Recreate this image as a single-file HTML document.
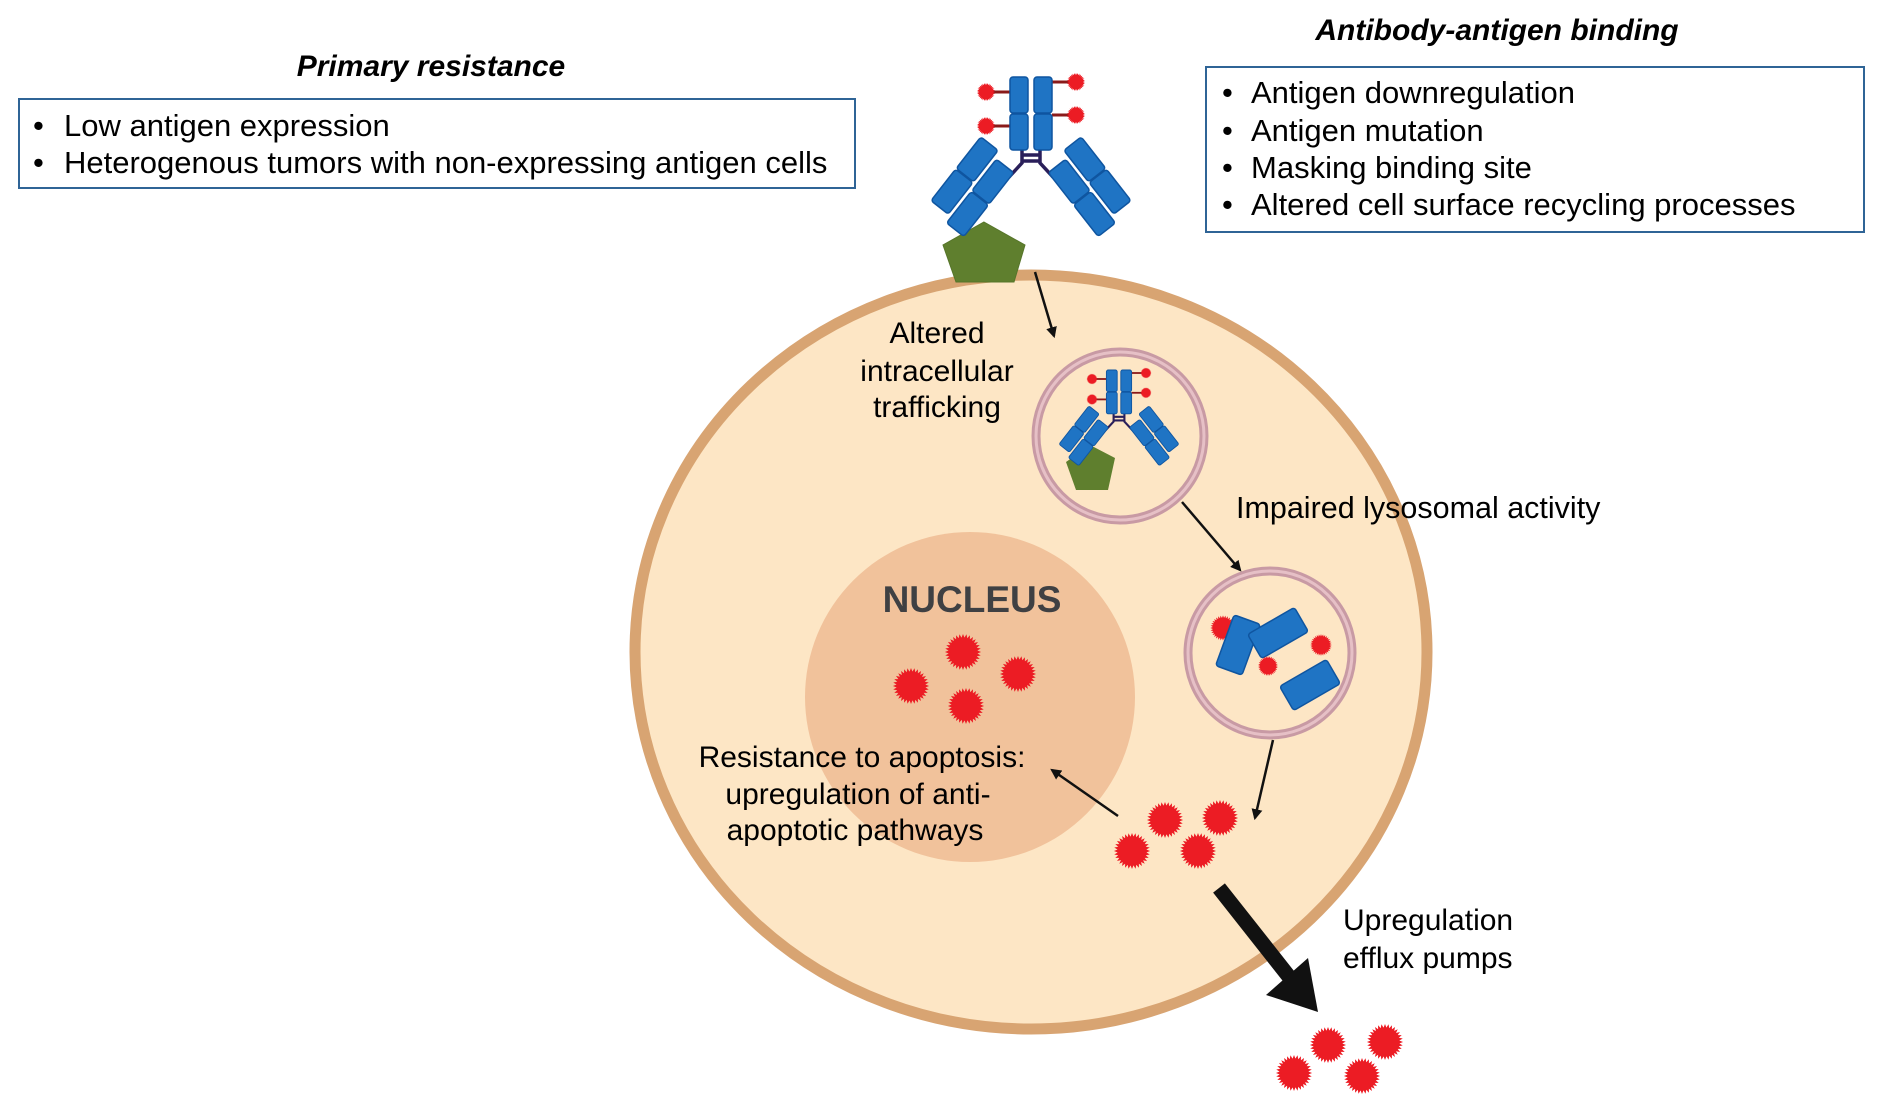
<!DOCTYPE html>
<html><head><meta charset="utf-8"><style>
html,body{margin:0;padding:0;background:#fff}
svg{display:block}
text{font-family:"Liberation Sans",Arial,sans-serif;fill:#000}
</style></head><body>
<svg width="1879" height="1111" viewBox="0 0 1879 1111" xmlns="http://www.w3.org/2000/svg">
<defs>
<polygon id="st0" points="0,-19 2.6,-12.4 7.3,-17.6 7.2,-10.5 13.4,-13.4 10.5,-7.2 17.6,-7.3 12.4,-2.6 19,0 12.4,2.6 17.6,7.3 10.5,7.2 13.4,13.4 7.2,10.5 7.3,17.6 2.6,12.4 0,19 -2.6,12.4 -7.3,17.6 -7.2,10.5 -13.4,13.4 -10.5,7.2 -17.6,7.3 -12.4,2.6 -19,0 -12.4,-2.6 -17.6,-7.3 -10.5,-7.2 -13.4,-13.4 -7.2,-10.5 -7.3,-17.6 -2.6,-12.4"/>
<g id="star" fill="#ec1c24">
  <circle r="14.5"/>
  <use href="#st0" transform="scale(0.95)"/>
  <use href="#st0" transform="rotate(11.25) scale(0.95)"/>
</g>
<marker id="ah" markerWidth="11" markerHeight="11" refX="8" refY="5" orient="auto" markerUnits="userSpaceOnUse" viewBox="0 0 10 10"><path d="M0,0 L10,5 L0,10 z" fill="#111"/></marker>
<g id="ab">
  <line x1="-21" y1="15" x2="-40" y2="15" stroke="#8a1a1a" stroke-width="3"/>
  <line x1="-21" y1="49" x2="-40" y2="49" stroke="#8a1a1a" stroke-width="3"/>
  <line x1="21" y1="5" x2="40" y2="5" stroke="#8a1a1a" stroke-width="3"/>
  <line x1="21" y1="38" x2="40" y2="38" stroke="#8a1a1a" stroke-width="3"/>
  <use href="#star" transform="translate(-45,15) scale(0.5)"/>
  <use href="#star" transform="translate(-45,49) scale(0.5)"/>
  <use href="#star" transform="translate(45,5) scale(0.5)"/>
  <use href="#star" transform="translate(45,38) scale(0.5)"/>
  <path d="M-9,72 L-9,86 L-22,100 M9,72 L9,86 L22,100 M-9,78 L9,78 M-9,84 L9,84" stroke="#2a1f5a" stroke-width="3.5" fill="none"/>
  <rect x="-21" y="0" width="18" height="36" rx="3" fill="#1f74c4" stroke="#0f55a0" stroke-width="1.5"/>
  <rect x="-21" y="37" width="18" height="36" rx="3" fill="#1f74c4" stroke="#0f55a0" stroke-width="1.5"/>
  <rect x="3" y="0" width="18" height="36" rx="3" fill="#1f74c4" stroke="#0f55a0" stroke-width="1.5"/>
  <rect x="3" y="37" width="18" height="36" rx="3" fill="#1f74c4" stroke="#0f55a0" stroke-width="1.5"/>
  <g transform="translate(-22,92) rotate(38)">
    <rect x="-42" y="-8" width="22" height="40" rx="3" fill="#1f74c4" stroke="#0f55a0" stroke-width="1.5"/>
    <rect x="-42" y="33" width="22" height="40" rx="3" fill="#1f74c4" stroke="#0f55a0" stroke-width="1.5"/>
    <rect x="-16" y="0" width="22" height="40" rx="3" fill="#1f74c4" stroke="#0f55a0" stroke-width="1.5"/>
    <rect x="-16" y="41" width="22" height="40" rx="3" fill="#1f74c4" stroke="#0f55a0" stroke-width="1.5"/>
  </g>
  <g transform="translate(22,92) rotate(-38)">
    <rect x="20" y="-8" width="22" height="40" rx="3" fill="#1f74c4" stroke="#0f55a0" stroke-width="1.5"/>
    <rect x="20" y="33" width="22" height="40" rx="3" fill="#1f74c4" stroke="#0f55a0" stroke-width="1.5"/>
    <rect x="-6" y="0" width="22" height="40" rx="3" fill="#1f74c4" stroke="#0f55a0" stroke-width="1.5"/>
    <rect x="-6" y="41" width="22" height="40" rx="3" fill="#1f74c4" stroke="#0f55a0" stroke-width="1.5"/>
  </g>
</g>
</defs>

<text x="431" y="76" font-size="30" font-weight="bold" font-style="italic" text-anchor="middle">Primary resistance</text>
<rect x="19" y="99" width="836" height="89" fill="none" stroke="#2f6496" stroke-width="2"/>
<text font-size="31"><tspan x="33" y="136">•</tspan><tspan x="64" y="136">Low antigen expression</tspan><tspan x="33" y="173">•</tspan><tspan x="64" y="173">Heterogenous tumors with non-expressing antigen cells</tspan></text>

<text x="1497" y="40" font-size="30" font-weight="bold" font-style="italic" text-anchor="middle">Antibody-antigen binding</text>
<rect x="1206" y="67" width="658" height="165" fill="none" stroke="#2f6496" stroke-width="2"/>
<text font-size="31"><tspan x="1222" y="103">•</tspan><tspan x="1251" y="103">Antigen downregulation</tspan><tspan x="1222" y="141">•</tspan><tspan x="1251" y="141">Antigen mutation</tspan><tspan x="1222" y="178">•</tspan><tspan x="1251" y="178">Masking binding site</tspan><tspan x="1222" y="215">•</tspan><tspan x="1251" y="215">Altered cell surface recycling processes</tspan></text>

<ellipse cx="1031" cy="652" rx="396" ry="377" fill="#fde6c5" stroke="#d8a472" stroke-width="11"/>
<circle cx="970" cy="697" r="165" fill="#f1c29b"/>
<text x="972" y="612" font-size="37" font-weight="bold" text-anchor="middle" style="fill:#3f4043">NUCLEUS</text>

<polygon points="984,222 1025,245 1014,282 956,282 943,245" fill="#5f7f2e" stroke="#56752a" stroke-width="1"/>
<use href="#ab" transform="translate(1031,77)"/>

<circle cx="1120" cy="436" r="84" fill="none" stroke="#c89aa4" stroke-width="9"/>
<circle cx="1120" cy="436" r="84" fill="none" stroke="#e6c0c6" stroke-width="3"/>
<polygon points="1090,445 1115,458 1108,490 1076,490 1066,462" fill="#5f7f2e"/>
<use href="#ab" transform="translate(1119,370) scale(0.6)"/>

<circle cx="1270" cy="653" r="82" fill="none" stroke="#c89aa4" stroke-width="9"/>
<circle cx="1270" cy="653" r="82" fill="none" stroke="#e6c0c6" stroke-width="3"/>
<use href="#star" transform="translate(1223,628) scale(0.7)"/>
<rect x="-14" y="-27" width="28" height="54" rx="3" fill="#1f74c4" stroke="#0f55a0" stroke-width="1.5" transform="translate(1238,645) rotate(20)"/>
<rect x="-14" y="-27" width="28" height="54" rx="3" fill="#1f74c4" stroke="#0f55a0" stroke-width="1.5" transform="translate(1278,633) rotate(60)"/>
<rect x="-14" y="-27" width="28" height="54" rx="3" fill="#1f74c4" stroke="#0f55a0" stroke-width="1.5" transform="translate(1310,685) rotate(60)"/>
<use href="#star" transform="translate(1321,645) scale(0.6)"/>
<use href="#star" transform="translate(1268,666) scale(0.55)"/>

<use href="#star" transform="translate(963,652)"/>
<use href="#star" transform="translate(911,686)"/>
<use href="#star" transform="translate(1018,674)"/>
<use href="#star" transform="translate(966,706)"/>
<use href="#star" transform="translate(1165,820)"/>
<use href="#star" transform="translate(1220,818)"/>
<use href="#star" transform="translate(1132,851)"/>
<use href="#star" transform="translate(1198,851)"/>
<use href="#star" transform="translate(1328,1045)"/>
<use href="#star" transform="translate(1385,1042)"/>
<use href="#star" transform="translate(1294,1073)"/>
<use href="#star" transform="translate(1362,1076)"/>

<line x1="1035" y1="272" x2="1054" y2="336" stroke="#111" stroke-width="2.5" marker-end="url(#ah)"/>
<line x1="1182" y1="502" x2="1240" y2="570" stroke="#111" stroke-width="2.5" marker-end="url(#ah)"/>
<line x1="1273" y1="740" x2="1255" y2="818" stroke="#111" stroke-width="2.5" marker-end="url(#ah)"/>
<line x1="1118" y1="816" x2="1052" y2="770" stroke="#111" stroke-width="2.5" marker-end="url(#ah)"/>
<line x1="1219" y1="888" x2="1290" y2="978" stroke="#111" stroke-width="15"/>
<polygon points="1266,995 1318,1012 1308,958" fill="#111"/>

<text font-size="30" text-anchor="middle"><tspan x="937" y="343">Altered</tspan><tspan x="937" y="381">intracellular</tspan><tspan x="937" y="417">trafficking</tspan></text>
<text x="1236" y="518" font-size="30.5">Impaired lysosomal activity</text>
<text font-size="30" text-anchor="middle" textLength="0"><tspan x="862" y="767">Resistance to apoptosis:</tspan><tspan x="858" y="804">upregulation of anti-</tspan><tspan x="855" y="840">apoptotic pathways</tspan></text>
<text font-size="30"><tspan x="1343" y="930">Upregulation</tspan><tspan x="1343" y="968">efflux pumps</tspan></text>
</svg>
</body></html>
